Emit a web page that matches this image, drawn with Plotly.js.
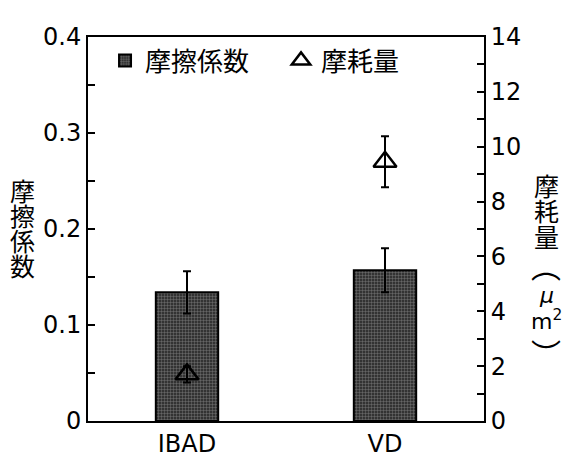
<!DOCTYPE html>
<html>
<head>
<meta charset="utf-8">
<script src="https://cdn.plot.ly/plotly-3.0.1.min.js"></script>
<style>html,body{margin:0;padding:0;background:#fff;}#chart{width:576px;height:473px;}</style>
</head>
<body>
<div id="chart"></div>
<script>
// Data
const categories = ['IBAD', 'VD'];
const frictionCoef = [0.134, 0.157];
const frictionErr = [0.022, 0.023];
const wearAmount = [1.7, 9.45];
const wearErr = [0.3, 0.93];
const leftTickVals = [0, 0.1, 0.2, 0.3, 0.4];
const leftTickText = ['0', '0.1', '0.2', '0.3', '0.4'];
const rightTickVals = [0, 2, 4, 6, 8, 10, 12, 14];
const frictionName = '摩擦係数';
const wearName = '摩耗量';
const leftTitleChars = ['摩', '擦', '係', '数'];
const rightTitleChars = ['摩', '耗', '量', '⌒', '<i>μ</i>', 'm<sup>2</sup>', '⌒'];

const FONT = 'DejaVu Sans, Noto Sans CJK JP, sans-serif';
const CJK = 'Noto Sans CJK JP, sans-serif';

const traces = [
  {
    type: 'bar', x: categories, y: frictionCoef, name: frictionName,
    width: 0.315,
    marker: {color: '#333', line: {color: '#000', width: 2},
      pattern: {shape: '+', fgcolor: '#808080', bgcolor: '#333', size: 3, solidity: 0.25}},
    error_y: {type: 'data', array: frictionErr, visible: true, color: '#000', thickness: 2, width: 4}
  },
  {
    type: 'scatter', mode: 'markers', x: categories, y: wearAmount, yaxis: 'y2', name: wearName,
    marker: {symbol: 'triangle-up-open', size: 20, color: '#000', line: {width: 2.5, color: '#000'}},
    error_y: {type: 'data', array: wearErr, visible: true, color: '#000', thickness: 2, width: 4}
  }
];

const annotations = [];
leftTitleChars.forEach((c, i) => {
  annotations.push({xref: 'paper', yref: 'paper', x: (22 - 88) / 396, y: (421 - (190 + i * 25)) / 384,
    text: c, showarrow: false, xanchor: 'center', yanchor: 'middle', font: {family: CJK, size: 25, color: '#000'}});
});
const rightY = [185, 210, 236, 285, 295, 320, 336];
const rightSize = [25, 25, 25, 30, 22, 22, 30];
const rightAngle = [0, 0, 0, 0, 0, 0, 180];
rightTitleChars.forEach((c, i) => {
  annotations.push({xref: 'paper', yref: 'paper', x: (546 - 88) / 396, y: (421 - rightY[i]) / 384,
    text: c, showarrow: false, xanchor: 'center', yanchor: 'middle', textangle: rightAngle[i],
    font: {family: (i < 4 || i === 6) ? CJK : FONT, size: rightSize[i], color: '#000'}});
});

const layout = {
  width: 576, height: 473,
  margin: {l: 88, r: 92, t: 37, b: 52, pad: 0},
  paper_bgcolor: '#fff', plot_bgcolor: '#fff',
  font: {family: FONT, size: 24, color: '#000'},
  showlegend: true,
  legend: {orientation: 'h', x: 0.043, y: 1, xanchor: 'left', yanchor: 'top',
    font: {family: CJK, size: 26, color: '#000'}, bgcolor: 'rgba(0,0,0,0)', entrywidth: 131, entrywidthmode: 'pixels'},
  xaxis: {range: [-0.5, 1.5], showline: true, linecolor: '#000', linewidth: 2, mirror: true,
    ticks: '', showgrid: false, zeroline: false, tickfont: {size: 24}},
  yaxis: {range: [0, 0.4], tickvals: leftTickVals, ticktext: leftTickText, ticks: 'inside', ticklen: 7, tickwidth: 2,
    tickcolor: '#000', showline: true, linecolor: '#000', linewidth: 2, showgrid: false, zeroline: false,
    minor: {dtick: 0.05, ticks: 'inside', ticklen: 7, tickwidth: 2, tickcolor: '#000', showgrid: false},
    tickfont: {size: 24}},
  yaxis2: {range: [0, 14], overlaying: 'y', side: 'right', tickvals: rightTickVals, ticks: 'inside', ticklen: 7, tickwidth: 2,
    tickcolor: '#000', showline: true, linecolor: '#000', linewidth: 2, showgrid: false, zeroline: false,
    minor: {dtick: 1, ticks: 'inside', ticklen: 7, tickwidth: 2, tickcolor: '#000', showgrid: false},
    tickfont: {size: 24}},
  annotations: annotations
};

Plotly.newPlot('chart', traces, layout, {staticPlot: true, displayModeBar: false});
</script>
</body>
</html>
